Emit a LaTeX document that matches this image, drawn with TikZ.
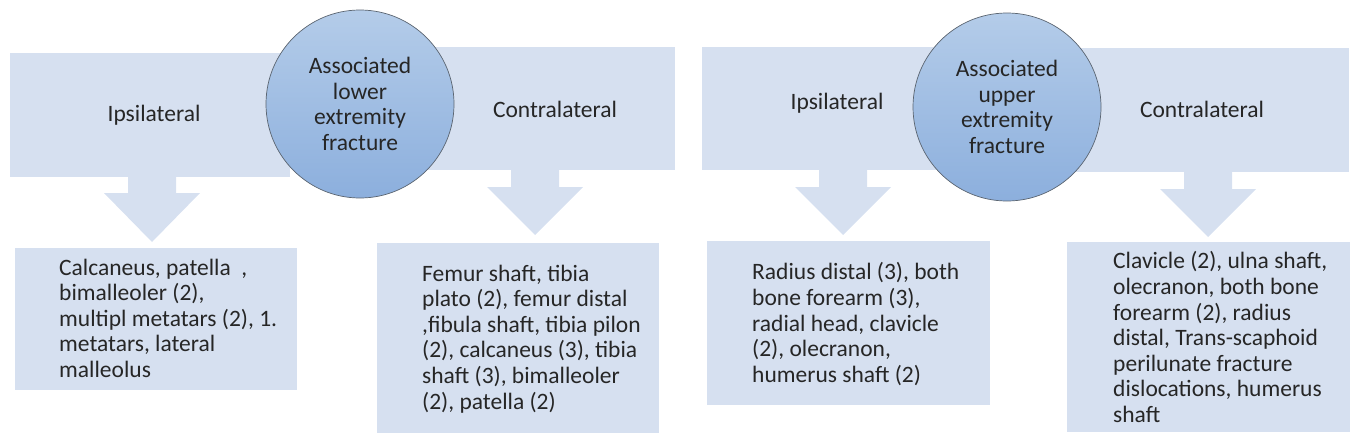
\documentclass[tikz,border=0pt]{standalone}
\usepackage{fontspec}
\setmainfont{Carlito}
\usetikzlibrary{calc}
\definecolor{boxfill}{HTML}{D6E0F0}
\definecolor{circtop}{HTML}{B4CCE9}
\definecolor{circbot}{HTML}{8CAFDD}
\definecolor{circline}{HTML}{5A6470}
\definecolor{txt}{HTML}{262626}
\tikzset{
  topbox/.style={fill=boxfill, draw=none},
  listbox/.style={fill=boxfill, draw=none},
  hub/.style={circle, minimum size=188pt, inner sep=0pt, top color=circtop, bottom color=circbot, draw=circline, line width=0.7pt, align=center, text=txt, font=\fontsize{23.5}{25.6}\selectfont},
  lbl/.style={text=txt, font=\fontsize{23.5}{25.6}\selectfont, inner sep=0pt},
  listtxt/.style={text=txt, font=\fontsize{23.5}{25.6}\selectfont, align=left, inner sep=0pt, anchor=north west},
  blockarrow/.style={fill=boxfill, draw=none}
}
% #1 x centre, #2 stem top, #3 head top, #4 tip
\newcommand{\blockarr}[4]{%
  \fill[blockarrow] (#1-24,#2) -- (#1+24,#2) -- (#1+24,#3) -- (#1+48,#3) -- (#1,#4) -- (#1-48,#3) -- (#1-24,#3) -- cycle;}
\begin{document}
\begin{tikzpicture}[x=1pt,y=-1pt]
\useasboundingbox (0,0) rectangle (1359,442);
% ---------- left group ----------
\fill[topbox] (10,53) rectangle (290,177);
\node[lbl] (ipsiL) at (154,115) {Ipsilateral};
\fill[topbox] (420,47) rectangle (675,170);
\node[lbl] (contraL) at (555,109) {Contralateral};
\node[hub] (hubL) at (360,104) {Associated\\lower\\extremity\\fracture};
\blockarr{152}{177}{193}{242}
\blockarr{535}{170}{187}{235}
\fill[listbox] (15,248) rectangle (297,390);
\node[listtxt] (listA) at (59,258.5) {Calcaneus, patella\ \ ,\\bimalleoler (2),\\multipl metatars (2), 1.\\metatars, lateral\\malleolus};
\fill[listbox] (377,243) rectangle (659,433);
\node[listtxt] (listB) at (422,264.5) {Femur shaft, tibia\\plato (2), femur distal\\,fibula shaft, tibia pilon\\(2), calcaneus (3), tibia\\shaft (3), bimalleoler\\(2), patella (2)};
% ---------- right group ----------
\fill[topbox] (702,47) rectangle (960,170);
\node[lbl] (ipsiR) at (837,103) {Ipsilateral};
\fill[topbox] (1050,48) rectangle (1349,172);
\node[lbl] (contraR) at (1202,109) {Contralateral};
\node[hub] (hubR) at (1007,107) {Associated\\upper\\extremity\\fracture};
\blockarr{843}{170}{187}{235}
\blockarr{1208}{172}{189}{237}
\fill[listbox] (707,241) rectangle (990,405);
\node[listtxt] (listC) at (752,262.5) {Radius distal (3), both\\bone forearm (3),\\radial head, clavicle\\(2), olecranon,\\humerus shaft (2)};
\fill[listbox] (1067,242) rectangle (1350,432);
\node[listtxt] (listD) at (1113,251.5) {Clavicle (2), ulna shaft,\\olecranon, both bone\\forearm (2), radius\\distal, Trans-scaphoid\\perilunate fracture\\dislocations, humerus\\shaft};
\end{tikzpicture}
\end{document}
